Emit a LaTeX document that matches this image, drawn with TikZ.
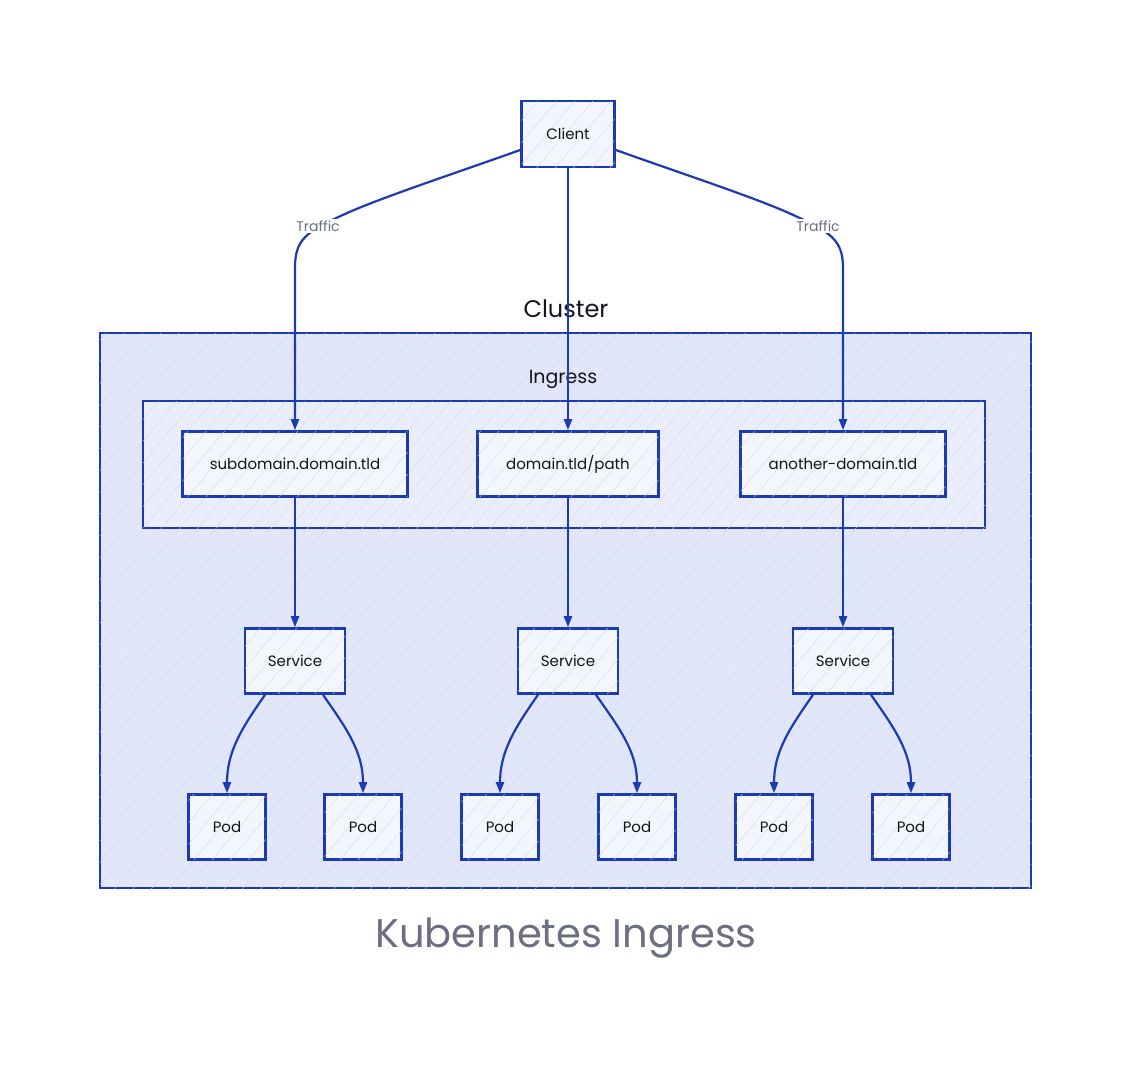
\documentclass[tikz,border=0pt]{standalone}
\usepackage{fontspec}
\setmainfont{Poppins}
\usetikzlibrary{arrows.meta,patterns.meta}
\definecolor{stroke}{RGB}{28,58,178}
\definecolor{clusterfill}{RGB}{225,231,248}
\definecolor{ingressfill}{RGB}{234,238,251}
\definecolor{nodefill}{RGB}{243,246,253}
\definecolor{hatch}{RGB}{208,215,238}
\definecolor{labelgray}{RGB}{107,111,128}
\definecolor{ink}{RGB}{20,20,30}
\tikzset{
  hatched/.style={postaction={pattern={Lines[angle=50,distance=14pt,line width=0.35pt]},pattern color=hatch}},
  groupbox/.style={draw=stroke,line width=2.4pt,hatched},
  box/.style={draw=stroke,line width=2.6pt,fill=nodefill,hatched,inner sep=0pt,text=ink,font=\fontsize{15}{18}\selectfont},
  conn/.style={draw=stroke,line width=2.2pt,-{Triangle[length=11pt,width=8pt]}},
  edgelabel/.style={fill=white,inner sep=2pt,text=labelgray,font=\fontsize{14}{16}\selectfont},
  grouplabel/.style={text=ink,inner sep=0pt},
}
\begin{document}
\begin{tikzpicture}[x=1pt,y=-1pt]
\useasboundingbox[fill=white] (0,0) rectangle (1132,1069);
% cluster
\node[grouplabel,font=\fontsize{24}{28}\selectfont] (clusterlabel) at (566,309) {Cluster};
\draw[groupbox,fill=clusterfill] (100,333) rectangle (1031,888);
\node[grouplabel,font=\fontsize{19}{22}\selectfont] (ingresslabel) at (563,379) {Ingress};
\draw[groupbox,fill=ingressfill] (143,401) rectangle (985,528);
% nodes
\node[box,minimum width=93pt,minimum height=66pt] (client) at (568,134) {Client};
\node[box,minimum width=225pt,minimum height=65pt] (sub) at (295,464) {subdomain.domain.tld};
\node[box,minimum width=181pt,minimum height=65pt] (path) at (568,464) {domain.tld/path};
\node[box,minimum width=205pt,minimum height=65pt] (another) at (843,464) {another-domain.tld};
\node[box,minimum width=100pt,minimum height=65pt] (svc1) at (295,661) {Service};
\node[box,minimum width=100pt,minimum height=65pt] (svc2) at (568,661) {Service};
\node[box,minimum width=100pt,minimum height=65pt] (svc3) at (843,661) {Service};
\node[box,minimum width=77pt,minimum height=65pt] (pod1) at (227,827) {Pod};
\node[box,minimum width=77pt,minimum height=65pt] (pod2) at (363,827) {Pod};
\node[box,minimum width=77pt,minimum height=65pt] (pod3) at (500,827) {Pod};
\node[box,minimum width=77pt,minimum height=65pt] (pod4) at (637,827) {Pod};
\node[box,minimum width=77pt,minimum height=65pt] (pod5) at (774,827) {Pod};
\node[box,minimum width=77pt,minimum height=65pt] (pod6) at (911,827) {Pod};
% client edges
\draw[conn] ([yshift=-16pt]client.west) .. controls (450,175) and (380,198) .. (345,214) .. controls (305,232) and (295,240) .. (295,268) -- (sub.north);
\draw[conn] ([yshift=-16pt]client.east) .. controls (686,175) and (756,198) .. (791,214) .. controls (831,232) and (843,240) .. (843,268) -- (another.north);
\draw[conn] (client.south) -- (path.north);
\node[edgelabel] (t1) at (318,226) {Traffic};
\node[edgelabel] (t2) at (818,226) {Traffic};
% ingress to services
\draw[conn] (sub.south) -- (svc1.north);
\draw[conn] (path.south) -- (svc2.north);
\draw[conn] (another.south) -- (svc3.north);
% services to pods
\draw[conn] ([xshift=-30pt]svc1.south) to[out=-125,in=90] (pod1.north);
\draw[conn] ([xshift=28pt]svc1.south) to[out=-55,in=90] (pod2.north);
\draw[conn] ([xshift=-30pt]svc2.south) to[out=-125,in=90] (pod3.north);
\draw[conn] ([xshift=28pt]svc2.south) to[out=-55,in=90] (pod4.north);
\draw[conn] ([xshift=-30pt]svc3.south) to[out=-125,in=90] (pod5.north);
\draw[conn] ([xshift=28pt]svc3.south) to[out=-55,in=90] (pod6.north);
% title
\node[text=labelgray,font=\fontsize{40}{46}\selectfont,inner sep=0pt] (title) at (566,938) {Kubernetes Ingress};
\end{tikzpicture}
\end{document}
